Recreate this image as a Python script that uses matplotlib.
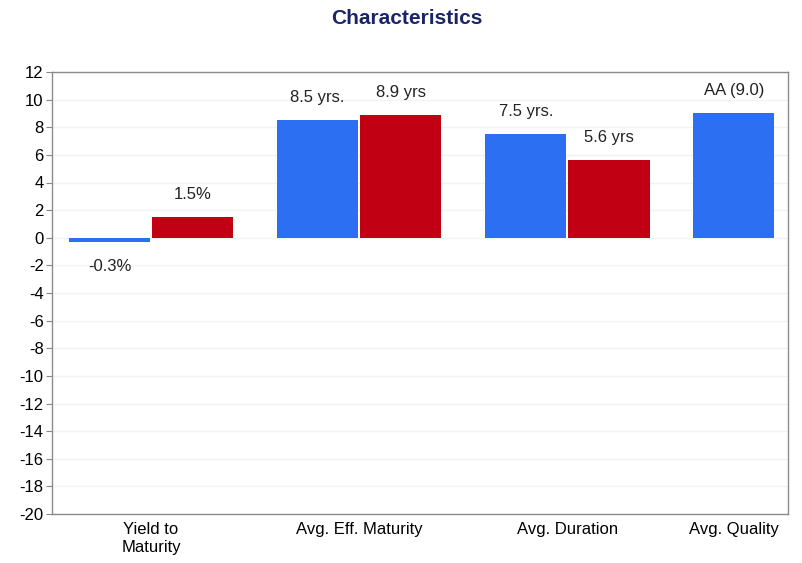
import matplotlib
matplotlib.use("Agg")
import matplotlib.pyplot as plt
import numpy as np

# data
categories = ['Yield to\nMaturity', 'Avg. Eff. Maturity', 'Avg. Duration', 'Avg. Quality']
fund_values = [-0.3, 8.5, 7.5, 9.0]
index_values = [1.5, 8.9, 5.6, np.nan]
fund_labels = ['-0.3%', '8.5 yrs.', '7.5 yrs.', 'AA (9.0)']
index_labels = ['1.5%', '8.9 yrs', '5.6 yrs', '']
y_ticks = list(range(-20, 13, 2))

plt.rcParams['font.family'] = ['Liberation Sans', 'DejaVu Sans']
plt.rcParams['axes.unicode_minus'] = False

blue = '#2c6ff2'
red = '#c10014'

fig = plt.figure(figsize=(8.02, 5.63), dpi=100)
ax = fig.add_axes([52 / 802, 1 - 514 / 563, (788 - 52) / 802, (514 - 72) / 563])

x = np.arange(len(categories), dtype=float)
off = 0.2
w = 0.39
fund_x = x - off
index_x = x + off
# last category has only one bar, tick sits on it
ticks = [x[0], x[1], x[2], fund_x[3]]

ax.bar(fund_x, fund_values, width=w, color=blue, zorder=3)
ax.bar(index_x, index_values, width=w, color=red, zorder=3)

for xs, vals, labs in [(fund_x, fund_values, fund_labels), (index_x, index_values, index_labels)]:
    for xi, v, lab in zip(xs, vals, labs):
        if not lab:
            continue
        if v >= 0:
            ax.annotate(lab, (xi, v), xytext=(0, 11), textcoords='offset points',
                        ha='center', va='bottom', fontsize=12, color='#222222')
        else:
            ax.annotate(lab, (xi, v), xytext=(0, -12), textcoords='offset points',
                        ha='center', va='top', fontsize=12, color='#222222')

ax.set_xlim(-0.476, 3.06)
ax.set_ylim(-20, 12)
ax.set_yticks(y_ticks)
ax.set_xticks(ticks)
ax.set_xticklabels(categories, fontsize=12)
ax.tick_params(axis='y', labelsize=12, length=4, color='#888888', pad=2)
ax.tick_params(axis='x', length=0, pad=6)
ax.grid(axis='y', color='#f3f3f3', linewidth=1, zorder=0)
for s in ax.spines.values():
    s.set_color('#8c8c8c')
    s.set_linewidth(1)

fig.text(407 / 802, 1 - 18 / 563, 'Characteristics', ha='center', va='center',
         fontsize=15, fontweight='bold', color='#1a2466')

fig.savefig('out.png', dpi=100)
